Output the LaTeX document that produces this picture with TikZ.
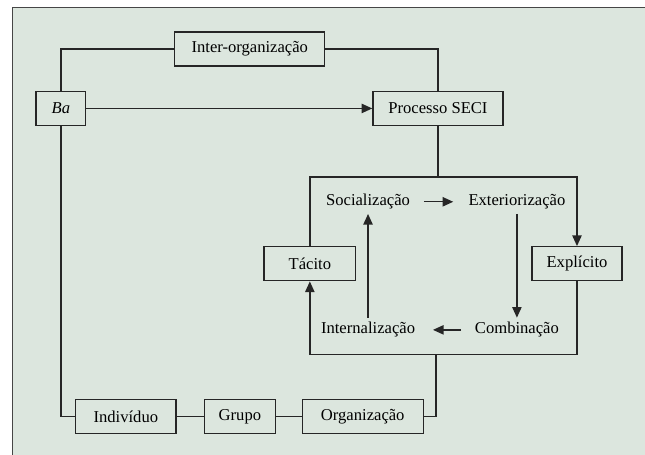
\documentclass[tikz,border=0pt]{standalone}
\usepackage{fontspec}
\setmainfont{Liberation Serif}
\usepackage{tikz}
\usetikzlibrary{arrows.meta}
\definecolor{panelbg}{RGB}{220,230,222}
\definecolor{panelrule}{RGB}{70,70,70}

\begin{document}
\begin{tikzpicture}[font=\fontsize{12.5}{14}\selectfont, line width=1pt, draw=black!85]
    \tikzstyle{box}=[draw, rectangle, minimum height=0.9cm, inner sep=0pt, text centered]
    \tikzstyle{mode}=[inner sep=3pt]
    \tikzstyle{arr}=[-{Triangle[length=8pt,width=7pt]}]

    % Background panel
    \useasboundingbox (0,0) rectangle (17.07,-12.04);
    \fill[panelbg] (0.32,-0.19) rectangle (17.07,-12.04);
    \draw[panelrule, line width=0.7pt] (0.32,-12.04) -- (0.32,-0.19) -- (17.07,-0.19);

    % Upper row
    \node[box, minimum width=1.32cm] (Ba) at (1.61,-2.87) {\textit{Ba}};
    \node[box, minimum width=3.97cm] (Inter) at (6.61,-1.30) {Inter-organização};
    \node[box, minimum width=3.44cm] (SECI) at (11.59,-2.87) {Processo SECI};

    % Knowledge boxes
    \node[box, minimum width=2.43cm] (Tacito) at (8.20,-6.98) {Tácito};
    \node[box, minimum width=2.38cm] (Explicito) at (15.27,-6.98) {Explícito};

    % SECI modes
    \node[mode] (Soc) at (9.74,-5.34) {Socialização};
    \node[mode] (Ext) at (13.68,-5.34) {Exteriorização};
    \node[mode] (Comb) at (13.68,-8.73) {Combinação};
    \node[mode] (Int) at (9.74,-8.73) {Internalização};

    % Lower row
    \node[box, minimum width=2.65cm] (Ind) at (3.33,-11.03) {Indivíduo};
    \node[box, minimum width=1.88cm] (Grupo) at (6.35,-11.03) {Grupo};
    \node[box, minimum width=3.20cm] (Org) at (9.60,-11.03) {Organização};

    \coordinate (top) at (11.59,-4.68);
    \coordinate (bot) at (11.54,-9.39);

    % Connections
    \draw (Ba.north) |- (Inter.west);
    \draw (Inter.east) -| (SECI.north);
    \draw[arr] (Ba.east) -- (SECI.west);
    \draw (SECI.south) -- (top);
    \draw[arr] (Tacito.north) |- (top) -| (Explicito.north);
    \draw[arr] (Explicito.south) |- (bot) -| (Tacito.south);
    \draw (Ba.south) |- (Ind.west);
    \draw (Ind) -- (Grupo);
    \draw (Grupo) -- (Org);
    \draw (Org.east) -| (bot);

    % Cycle
    \draw[arr, shorten <=7pt, shorten >=8pt] (Soc) -- (Ext);
    \draw[arr] (Ext) -- (Comb);
    \draw[arr, shorten <=7pt, shorten >=10pt] (Comb) -- (Int);
    \draw[arr] (Int) -- (Soc);
\end{tikzpicture}
\end{document}
